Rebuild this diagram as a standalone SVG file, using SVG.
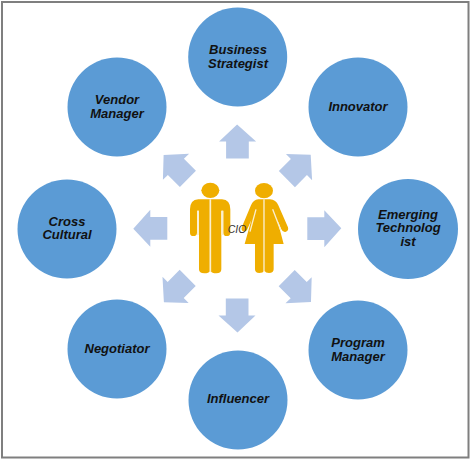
<svg xmlns="http://www.w3.org/2000/svg" width="472" height="460" viewBox="0 0 472 460">
<style>
.n{fill:#5B9BD5}
.t{font:italic bold 13px "Liberation Sans",Arial,sans-serif;fill:#111;text-anchor:middle}
.a{fill:#B4C7E7}
.f{fill:#EFAE00}
</style>
<defs>
<path id="arrow" class="a" d="M307.3 217.3H324.3V210.3L341.3 228.3L324.3 247.3V240H307.3Z"/>
</defs>
<rect width="472" height="460" fill="#fff"/>
<rect x="2" y="2" width="466.5" height="455.5" fill="none" stroke="#7F7F7F" stroke-width="2"/>
<g id="connectors">
<use href="#arrow"/>
<use href="#arrow" transform="rotate(45 237.3 228.5)"/>
<use href="#arrow" transform="rotate(90 237.3 228.5)"/>
<use href="#arrow" transform="rotate(135 237.3 228.5)"/>
<use href="#arrow" transform="rotate(180 237.3 228.5)"/>
<use href="#arrow" transform="rotate(225 237.3 228.5)"/>
<use href="#arrow" transform="rotate(270 237.3 228.5)"/>
<use href="#arrow" transform="rotate(315 237.3 228.5)"/>
</g>
<g id="cio">
<g transform="translate(150 120) scale(.3333)">
<ellipse class="f" cx="181" cy="211" rx="27" ry="23"/>
<path class="f" d="M145 238H216Q241 240 241 268V338Q241 348 230 348Q220 348 220 338V272H214V448Q214 460 199 460Q186 460 181 452Q176 460 163 460Q147 460 147 448V272H141V338Q141 348 130 348Q120 348 120 338V268Q120 240 145 238Z"/>
<path d="M181 238V456M144 272V345M217 272V345" fill="none" stroke="#FBEFCF" stroke-width="5"/>
<ellipse class="f" cx="342" cy="212" rx="27" ry="23"/>
<path class="f" d="M325 238H360Q378 240 385 256L414 322Q417 333 406 336Q398 337 394 328L382 300L401 372H371V448Q371 459 357 459Q347 459 343 452Q339 459 328 459Q315 459 315 448V372H284L304 300L292 328Q288 337 280 334Q272 330 276 320L303 256Q310 240 325 238Z"/>
<path d="M342 238V456M318 268L300 335M368 268L392 330" fill="none" stroke="#FBEFCF" stroke-width="4"/>
</g>
<text x="237" y="232.5" style="font:italic 10.5px 'Liberation Sans',Arial,sans-serif;fill:#333;text-anchor:middle">CIO</text>
</g>
<g id="business"><circle class="n" cx="237.7" cy="57" r="49.5"/><text class="t" x="238" y="53.5">Business</text><text class="t" x="238" y="67.5">Strategist</text></g>
<g id="innovator"><circle class="n" cx="358" cy="107" r="49.5"/><text class="t" x="358" y="111">Innovator</text></g>
<g id="emerging"><circle class="n" cx="408" cy="229" r="50"/><text class="t" x="408" y="218.5">Emerging</text><text class="t" x="408" y="232">Technolog</text><text class="t" x="408" y="245.5">ist</text></g>
<g id="program"><circle class="n" cx="358" cy="350" r="49.5"/><text class="t" x="358" y="346.5">Program</text><text class="t" x="358" y="360.5">Manager</text></g>
<g id="influencer"><circle class="n" cx="238" cy="400" r="49.5"/><text class="t" x="238" y="403">Influencer</text></g>
<g id="negotiator"><circle class="n" cx="117" cy="349" r="49.5"/><text class="t" x="117" y="353">Negotiator</text></g>
<g id="cross"><circle class="n" cx="67" cy="229" r="49.5"/><text class="t" x="67" y="225.5">Cross</text><text class="t" x="67" y="239">Cultural</text></g>
<g id="vendor"><circle class="n" cx="117" cy="107" r="49.5"/><text class="t" x="117" y="104">Vendor</text><text class="t" x="117" y="118">Manager</text></g>
</svg>
